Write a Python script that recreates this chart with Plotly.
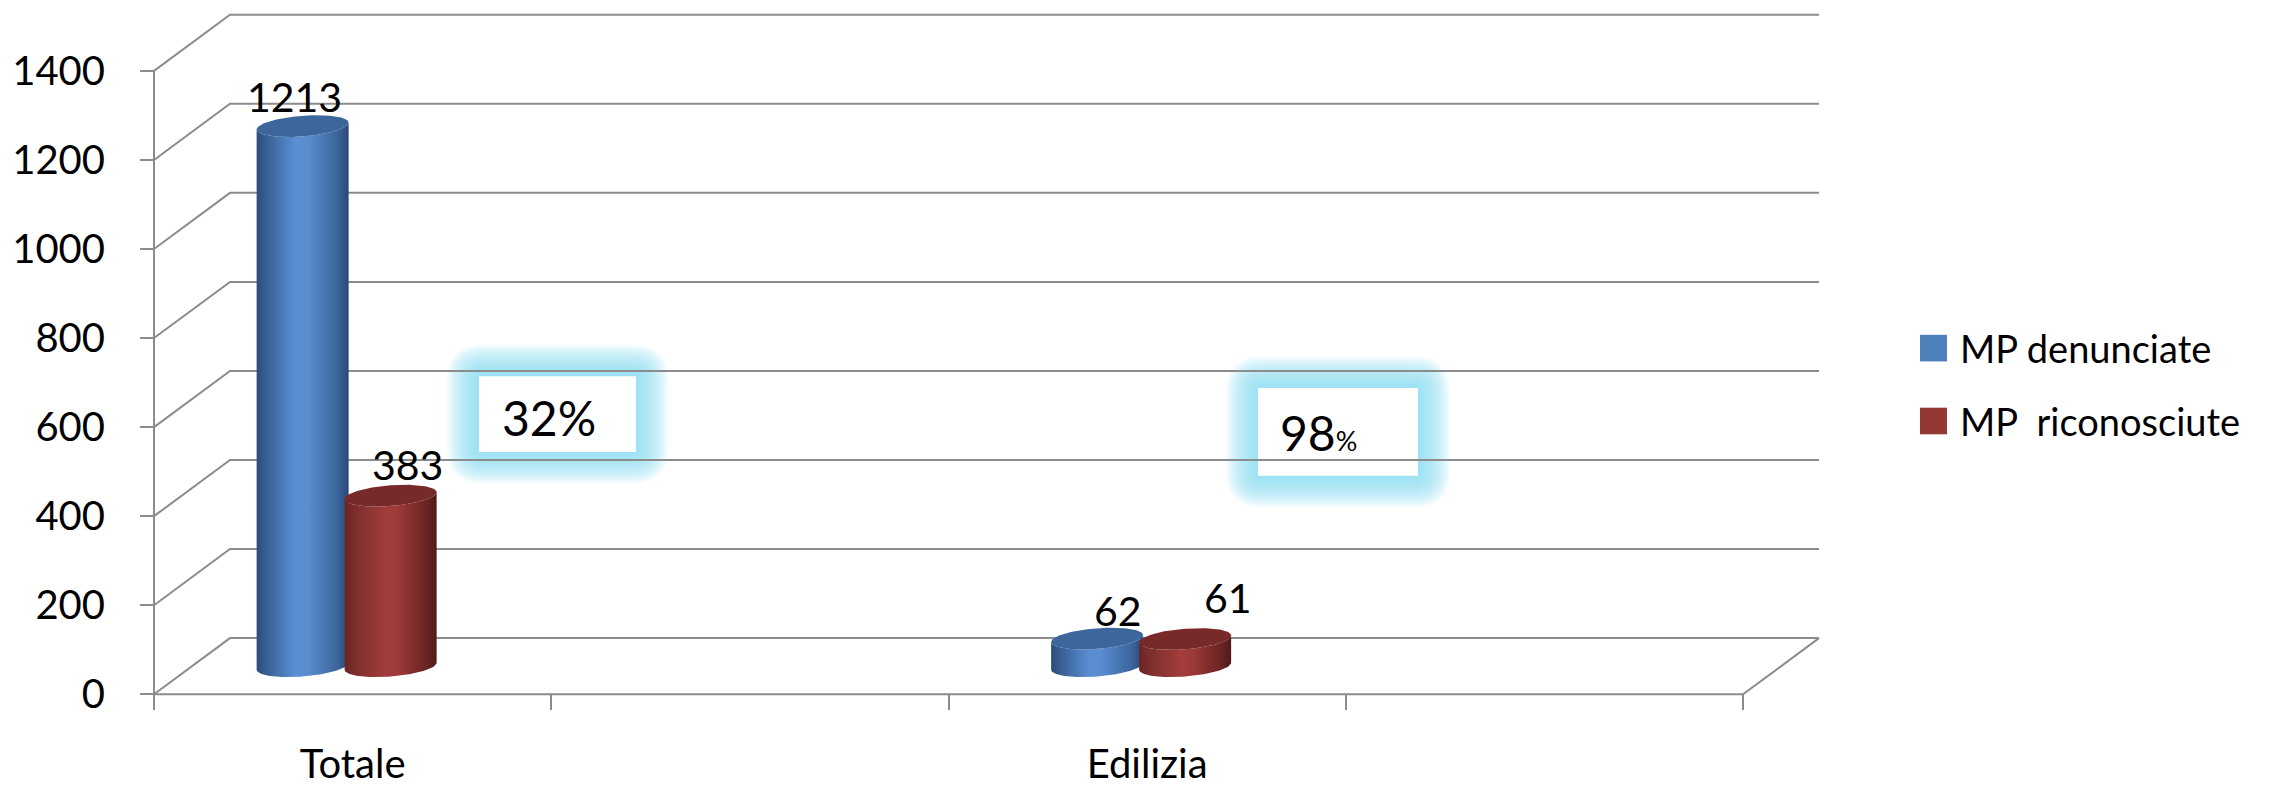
import numpy as np
import plotly.graph_objects as go

# ---------------------------------------------------------------- data
categories = ["Totale", "", "Edilizia", ""]
series_names = ["MP denunciate", "MP  riconosciute"]
mp_denunciate = [1213, None, 62, None]
mp_riconosciute = [383, None, 61, None]
y_ticks = [0, 200, 400, 600, 800, 1000, 1200, 1400]

# ---------------------------------------------------------------- geometry / style
W, H = 2290, 787
FONT = "Lato"
X0, SLOT = 154.0, 397.25          # px of the front-left corner, px per category slot
Y0, KY = 705.0, 633.0 / 1400.0    # px of value 0 on the front plane, px per value unit
DDX, DDY = 76.0, 57.0             # depth of the box (back wall offset), px
R_PX, RY_PX = 46.0, 10.5          # cylinder half width, ellipse half height (px)
SHEAR = 0.076                     # perspective tilt of the ellipses
SERIES_OFFSET = [-88.0, 0.0]      # cluster offsets inside a slot (px)
GRID = "#8c8c8c"

colors_body = [
    [[0.0, "#2c4b7a"], [0.12, "#3a6197"], [0.42, "#5b8fd3"], [0.55, "#5a8ccf"],
     [0.88, "#3b659c"], [1.0, "#2a4774"]],
    [[0.0, "#6a2423"], [0.12, "#7d2e2d"], [0.45, "#a23d3b"], [0.58, "#9c3a38"],
     [0.88, "#6c2423"], [1.0, "#521a1a"]],
]
colors_cap = ["#3c669c", "#772a29"]
legend_colors = ["#4f81bd", "#953735"]


def ux(px):
    """horizontal pixels -> x units"""
    return px / SLOT


def uy(px):
    """vertical pixels -> y units"""
    return px / KY


x_range = [-X0 / SLOT, (W - X0) / SLOT]
y_range = [(Y0 - H) / KY, Y0 / KY]
n_slots = len(categories)
dxu, dyu = ux(DDX), uy(DDY)

fig = go.Figure()

# ---------------------------------------------------------------- cylinders
t_half = np.linspace(np.pi, 0, 61)
t_full = np.linspace(0, 2 * np.pi, 121)
values = [mp_denunciate, mp_riconosciute]
for s, vals in enumerate(values):
    for i, v in enumerate(vals):
        if v is None:
            continue
        cx = i + 0.5 + ux(DDX / 2 + SERIES_OFFSET[s])
        base = dyu / 2
        top = v + dyu / 2
        # lower rim of the base (left -> right), then lower rim of the top (right -> left)
        xb = cx + ux(R_PX * np.cos(t_half))
        yb = base - uy(RY_PX * np.sin(t_half)) + uy(SHEAR * R_PX * np.cos(t_half))
        xt = cx + ux(R_PX * np.cos(t_half[::-1]))
        yt = top - uy(RY_PX * np.sin(t_half[::-1])) + uy(SHEAR * R_PX * np.cos(t_half[::-1]))
        fig.add_trace(go.Scatter(
            x=np.concatenate([xb, xt]), y=np.concatenate([yb, yt]),
            mode="lines", fill="toself", line=dict(width=0),
            fillgradient=dict(type="horizontal", start=cx - ux(R_PX), stop=cx + ux(R_PX),
                              colorscale=colors_body[s]),
            hoverinfo="skip", showlegend=False,
        ))
        xc = cx + ux(R_PX * np.cos(t_full))
        yc = top - uy(RY_PX * np.sin(t_full)) + uy(SHEAR * R_PX * np.cos(t_full))
        fig.add_trace(go.Scatter(
            x=xc, y=yc, mode="lines", fill="toself", line=dict(width=0),
            fillcolor=colors_cap[s], hoverinfo="skip", showlegend=False,
        ))

# ---------------------------------------------------------------- helpers for pixel-placed items
def px_x(px):
    return px / W


def px_y(py):
    return 1 - py / H


def rounded_rect(x0, y0, x1, y1, r):
    X = lambda v: f"{px_x(v):.5f}"
    Y = lambda v: f"{px_y(v):.5f}"
    return (f"M {X(x0 + r)},{Y(y0)} L {X(x1 - r)},{Y(y0)} Q {X(x1)},{Y(y0)} {X(x1)},{Y(y0 + r)} "
            f"L {X(x1)},{Y(y1 - r)} Q {X(x1)},{Y(y1)} {X(x1 - r)},{Y(y1)} "
            f"L {X(x0 + r)},{Y(y1)} Q {X(x0)},{Y(y1)} {X(x0)},{Y(y1 - r)} "
            f"L {X(x0)},{Y(y0 + r)} Q {X(x0)},{Y(y0)} {X(x0 + r)},{Y(y0)} Z")


shapes = []

# glowing boxes holding the recognition ratio
ratio_boxes = [(479, 382, 636, 459), (1258, 394, 1418, 483)]
for (bx0, by0, bx1, by1) in ratio_boxes:
    for e in range(32, 0, -2):
        shapes.append(dict(type="path", xref="paper", yref="paper", layer="below",
                           path=rounded_rect(bx0 - e, by0 - e, bx1 + e, by1 + e, e + 4),
                           fillcolor="rgb(138,222,244)", opacity=0.095, line=dict(width=0)))

# 3-D frame: side wall + back wall gridlines, floor
line_style = dict(color=GRID, width=2)
for v in y_ticks:
    shapes.append(dict(type="path", xref="x", yref="y", layer="below", line=line_style,
                       path=f"M 0,{v} L {dxu},{v + dyu} L {n_slots + dxu},{v + dyu}"))
shapes.append(dict(type="path", xref="x", yref="y", layer="below", line=line_style,
                   path=f"M 0,0 L {n_slots},0 L {n_slots + dxu},{dyu}"))
shapes.append(dict(type="line", xref="x", yref="y", layer="below", line=line_style,
                   x0=0, x1=0, y0=0, y1=y_ticks[-1]))

# white boxes over the glow / gridlines
for (bx0, by0, bx1, by1) in ratio_boxes:
    shapes.append(dict(type="rect", xref="paper", yref="paper", layer="below",
                       x0=px_x(bx0), x1=px_x(bx1), y0=px_y(by1), y1=px_y(by0),
                       fillcolor="white", line=dict(width=0)))

# legend keys
legend_rows = [353.5, 427.5]
for s, cy in enumerate(legend_rows):
    shapes.append(dict(type="rect", xref="paper", yref="paper",
                       x0=px_x(1920), x1=px_x(1947), y0=px_y(cy + 13.5), y1=px_y(cy - 13.5),
                       fillcolor=legend_colors[s], line=dict(width=0)))

annotations = []

# value labels above each cylinder
label_shift = {(0, 0): (-8, 30), (0, 2): (21, 28), (1, 0): (17, 31), (1, 2): (43, 42)}
for s, vals in enumerate(values):
    for i, v in enumerate(vals):
        if v is None:
            continue
        cx = i + 0.5 + ux(DDX / 2 + SERIES_OFFSET[s])
        sx, sy = label_shift[(s, i)]
        annotations.append(dict(x=cx, y=v + dyu / 2, xref="x", yref="y", text=str(v),
                                showarrow=False, xanchor="center", yanchor="middle",
                                xshift=sx, yshift=sy,
                                font=dict(family=FONT, size=41, color="black")))

# recognition ratio (riconosciute / denunciate)
ratio_text_pos = [(500, 424), (1278, 439)]
ratio_idx = [i for i, v in enumerate(mp_denunciate) if v is not None]
for k, i in enumerate(ratio_idx):
    pct = round(100 * mp_riconosciute[i] / mp_denunciate[i])
    txt = f"{pct}%" if k == 0 else f"{pct}<span style='font-size:27px'>%</span>"
    tx, ty = ratio_text_pos[k]
    annotations.append(dict(x=px_x(tx), y=px_y(ty), xref="paper", yref="paper", text=txt,
                            showarrow=False, xanchor="left", yanchor="middle",
                            font=dict(family=FONT, size=48, color="black")))

# legend text
for s, cy in enumerate(legend_rows):
    annotations.append(dict(x=px_x(1958), y=px_y(cy), xref="paper", yref="paper",
                            text=series_names[s].replace("  ", "&nbsp; "), showarrow=False,
                            xanchor="left", yanchor="middle",
                            font=dict(family=FONT, size=38, color="black")))

label_slots = [i + 0.5 for i, c in enumerate(categories) if c]
label_text = [c for c in categories if c]

fig.update_layout(
    width=W, height=H,
    margin=dict(l=0, r=0, t=0, b=0),
    paper_bgcolor="white", plot_bgcolor="white",
    showlegend=False,
    shapes=shapes, annotations=annotations,
    xaxis=dict(range=x_range, anchor="free", position=px_y(Y0), showgrid=False,
               zeroline=False, showline=False, fixedrange=True,
               tickmode="array", tickvals=label_slots, ticktext=label_text, ticks="",
               ticklabelstandoff=43,
               tickfont=dict(family=FONT, size=40, color="black"),
               minor=dict(tickmode="array", tickvals=list(range(n_slots + 1)),
                          ticks="outside", ticklen=15, tickwidth=2, tickcolor=GRID,
                          showgrid=False)),
    yaxis=dict(range=y_range, anchor="free", position=px_x(X0), showgrid=False,
               zeroline=False, showline=False, fixedrange=True,
               tickmode="array", tickvals=y_ticks, ticks="outside", ticklen=14,
               tickwidth=2, tickcolor=GRID, ticklabelstandoff=27,
               tickfont=dict(family=FONT, size=40, color="black")),
)

fig.write_html("out.html")
